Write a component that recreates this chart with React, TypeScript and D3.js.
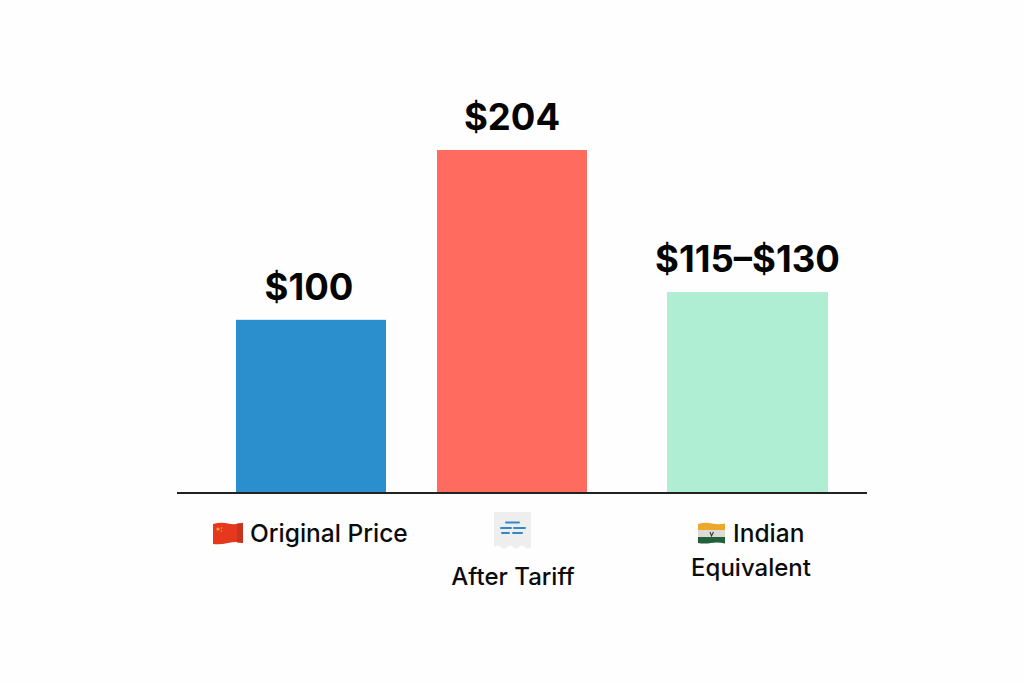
import * as d3 from 'd3'

const categories = ['Original Price', 'After Tariff', 'Indian Equivalent']
// bar heights as drawn (no axis in the chart)
const values = [103, 204, 119.5]
const valueLabels = ['$100', '$204', '$115–$130']
const barColors = ['#2b8fcd', '#ff6b5f', '#b0eed3']

const width = 1024
const height = 683
const baseline = 493
const font = 'Inter, sans-serif'

const x = d3.scaleOrdinal<string, number>().domain(categories).range([311, 512, 747.5])
const barWidth = d3.scaleOrdinal<string, number>().domain(categories).range([150, 150, 161])
const y = d3.scaleLinear().domain([0, 204]).range([baseline, 150])

function ChinaFlag() {
  return (
    <g transform="translate(213,523)">
      <path d="M0,1 Q8,-1 15,0.5 T30,0 V20 Q23,18 15,20 T0,21 Z" fill="#e5381d" />
      <path d="M24,0.5 L30,0 V20 L24,19.5 Z" fill="#c9341f" />
      <circle cx="5" cy="6" r="1.6" fill="#f0a92c" />
      <circle cx="8.5" cy="5" r="0.8" fill="#f0a92c" />
      <circle cx="8.5" cy="8" r="0.8" fill="#f0a92c" />
    </g>
  )
}

function ReceiptIcon() {
  return (
    <g transform="translate(494,512)">
      <path
        d="M0,0 H37 V35 Q34,38 31,35 T25,35 T19,35 T13,35 T7,35 T0,35 Z"
        fill="#eeeeee"
      />
      <g stroke="#3388c6" strokeWidth="2" strokeLinecap="round">
        <path d="M12,10.5 H25" />
        <path d="M7,16 H17 M20,16 H31" />
        <path d="M8,21 H15 M19,21 H28" />
      </g>
    </g>
  )
}

function IndiaFlag() {
  return (
    <g transform="translate(698,523)">
      <path d="M0,1 Q7,-1 14,0.5 T27,0.5 V7 H0 Z" fill="#eca72c" />
      <rect x="0" y="7" width="27" height="7" fill="#dcdcd4" />
      <path d="M0,14 H27 V20.5 Q20,19 13,20 T0,20 Z" fill="#22613a" />
      <path d="M12,9 L13.5,13 L15.5,9" fill="none" stroke="#333" strokeWidth="1.1" />
    </g>
  )
}

export default function App() {
  return (
    <svg
      width={width}
      height={height}
      style={{ position: 'absolute', left: 0, top: 0, background: '#fefefe' }}
    >
      {categories.map((c, i) => (
        <g key={c}>
          <rect
            x={x(c) - barWidth(c) / 2}
            y={y(values[i])}
            width={barWidth(c)}
            height={baseline - y(values[i])}
            fill={barColors[i]}
          />
          <text
            x={x(c) - (i === 0 ? 2 : 0)}
            y={y(values[i]) - 20}
            textAnchor="middle"
            fontFamily={font}
            fontSize={36.5}
            fontWeight={700}
            fill="#050505"
          >
            {valueLabels[i]}
          </text>
        </g>
      ))}
      <line x1={177} x2={867} y1={baseline} y2={baseline} stroke="#222" strokeWidth={1.8} />

      <g fontFamily={font} fontSize={24} fontWeight={500} fill="#0c0c0c">
        <ChinaFlag />
        <text x={250} y={542} fontSize={24.5}>Original Price</text>
        <ReceiptIcon />
        <text x={513} y={585} textAnchor="middle">After Tariff</text>
        <IndiaFlag />
        <text x={733} y={542} fontSize={24.5}>Indian</text>
        <text x={751} y={576} textAnchor="middle">Equivalent</text>
      </g>
    </svg>
  )
}
